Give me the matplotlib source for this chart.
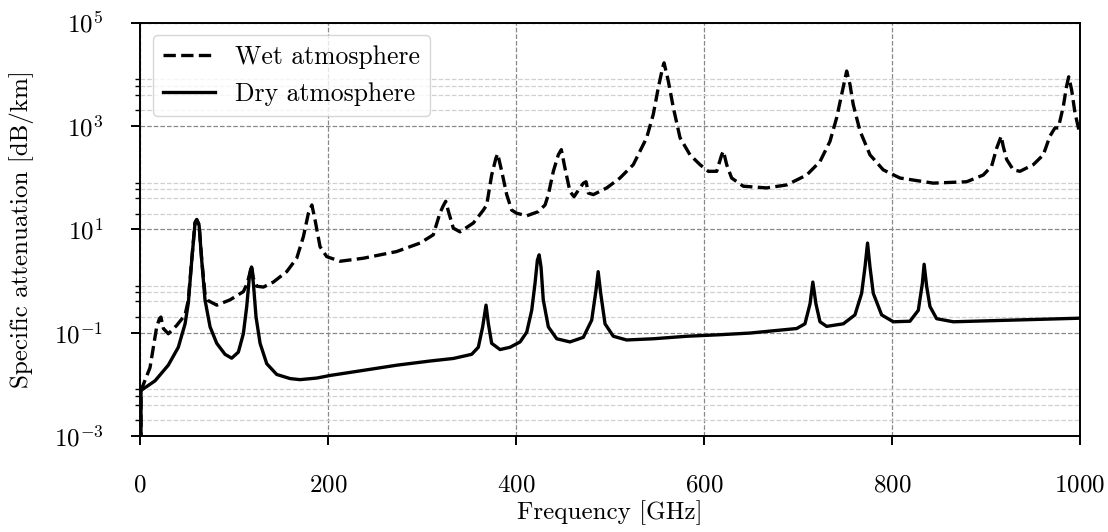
import numpy as np
import matplotlib
matplotlib.use("Agg")
import matplotlib.pyplot as plt
from matplotlib.ticker import FixedLocator, LogFormatterSciNotation, NullFormatter

plt.rcParams["font.family"] = "serif"
plt.rcParams["font.serif"] = ["cmr10"]
plt.rcParams["mathtext.fontset"] = "cm"
plt.rcParams["axes.formatter.use_mathtext"] = True

# Specific attenuation [GHz, dB/km]
freq_dry = [0, 1, 16, 30, 40.7, 47.9, 51.4, 55, 58.5, 60.3, 62.8, 65.6, 69.1, 74.5,
            81.6, 90.4, 97.5, 104.6, 109.9, 113.5, 116.3, 118.6, 120.6, 123.4, 127.7,
            134.8, 145.4, 159.6, 170.2, 188, 202, 237.6, 273, 308.5, 333.3, 352.8,
            359.9, 364.5, 368.1, 370.6, 374.1, 383, 393.6, 404.3, 411.4, 416.7, 420.2,
            422.7, 424.6, 426.6, 429, 434.4, 443.3, 457.4, 471.6, 480.5, 485.1, 487.4,
            490.1, 494.7, 503.5, 517.7, 546, 581.6, 617, 648.9, 698.6, 707.4, 712.8,
            715.8, 719.1, 723.4, 730.5, 748.2, 760.6, 767.7, 771.3, 774.0, 776.6, 780.1,
            789, 801.4, 819.1, 828, 832.3, 834.2, 836.9, 840.4, 847.5, 865.2, 925.5, 1000]
att_dry = [0, 0.0076, 0.0117, 0.0234, 0.052, 0.148, 0.38, 2.5, 13.2, 15.1, 12.0, 2.5,
           0.43, 0.129, 0.062, 0.038, 0.032, 0.042, 0.095, 0.32, 1.2, 1.86, 0.89, 0.20,
           0.062, 0.025, 0.0155, 0.0129, 0.0123, 0.0132, 0.0148, 0.0186, 0.0234, 0.0282,
           0.0316, 0.038, 0.052, 0.129, 0.34, 0.148, 0.062, 0.047, 0.052, 0.066, 0.102,
           0.27, 0.89, 2.5, 3.2, 1.86, 0.43, 0.129, 0.076, 0.066, 0.081, 0.174, 0.66,
           1.51, 0.575, 0.148, 0.085, 0.072, 0.076, 0.085, 0.091, 0.098, 0.12, 0.148,
           0.36, 0.95, 0.36, 0.162, 0.132, 0.148, 0.22, 0.575, 1.86, 5.4, 1.86, 0.575,
           0.22, 0.162, 0.166, 0.27, 0.89, 2.1, 0.78, 0.32, 0.186, 0.162, 0.174, 0.19]

freq_wet = [0, 1, 10.6, 14.2, 17.7, 20.6, 22.2, 24.8, 30.1, 39, 47.9, 51.4, 55, 58.5,
            60.3, 62.8, 65.6, 69.1, 72, 81.6, 95.7, 109.9, 114, 116.3, 118.6, 120.6,
            124.1, 131.2, 141.8, 156, 166.7, 173.8, 179.1, 182.8, 186.2, 191.5, 198.6,
            212.8, 237.6, 273, 297.9, 312, 319, 322.5, 325.2, 328, 333.3, 340.4, 354.6,
            365.2, 368.8, 374.1, 378.7, 380.5, 384.8, 390.1, 395.4, 400.7, 411.4, 423.7,
            430.9, 434.4, 439.7, 445, 448.2, 452.1, 457.4, 461.7, 468, 471.6, 474.5, 477,
            482.3, 496.5, 510.6, 524.8, 539, 546, 551.4, 556, 557.5, 562, 567.4, 574.5,
            585.1, 595.7, 604.6, 613.5, 618.8, 620.7, 624.1, 629.4, 641.8, 666.7, 688,
            709.3, 723.4, 734, 741.2, 746.5, 751.8, 755.3, 758.8, 766, 776.6, 790.7,
            808.5, 843.9, 879.5, 897.1, 906, 911.4, 916.2, 918.4, 922, 929, 936.2, 950.4,
            961, 968, 973.4, 977, 982.3, 985.8, 988, 991.1, 994.7, 1000]
att_wet = [0, 0.0076, 0.021, 0.052, 0.129, 0.186, 0.20, 0.12, 0.095, 0.138, 0.22, 0.43,
           2.6, 13.5, 15.5, 12.3, 2.6, 0.56, 0.42, 0.34, 0.43, 0.62, 0.89, 1.3, 2.0, 1.12,
           0.79, 0.76, 0.95, 1.51, 2.75, 7.2, 20.4, 29.5, 15.1, 4.6, 2.95, 2.4, 2.75, 3.7,
           5.4, 7.8, 20.4, 28.2, 34.7, 22.4, 10.5, 8.9, 13.2, 23.4, 29.5, 112, 240, 288,
           132, 46.8, 23.4, 20.4, 18.2, 21.9, 29.5, 46.8, 132, 275, 347, 151, 53.7, 42.7,
           63, 77.6, 83, 50, 46.8, 63, 98, 178, 589, 1660, 5500, 13500, 16600, 7400,
           2240, 589, 275, 178, 132, 132, 275, 324, 178, 98, 68, 63, 72, 112, 204, 500,
           1450, 4070, 11500, 6300, 2570, 794, 275, 141, 98, 78, 83, 112, 166, 372, 631,
           398, 224, 141, 132, 178, 275, 631, 912, 912, 2400, 5900, 8900, 5000, 1780, 676]

fig, ax = plt.subplots(figsize=(11.08, 5.32), dpi=100)
fig.subplots_adjust(left=0.1264, right=0.9747, top=0.9577, bottom=0.1805)

ax.plot(freq_wet, att_wet, "k--", lw=2.4, label="Wet atmosphere")
ax.plot(freq_dry, att_dry, "k-", lw=2.4, label="Dry atmosphere")

ax.set_yscale("log")
ax.set_xlim(0, 1000)
ax.set_ylim(1e-3, 1e5)
ax.set_xticks([0, 200, 400, 600, 800, 1000])
ax.yaxis.set_major_locator(FixedLocator([1e-3, 1e-1, 1e1, 1e3, 1e5]))
ax.yaxis.set_major_formatter(LogFormatterSciNotation())
minor = [s * 10.0 ** e for e in (-3, -1, 1, 3) for s in (2, 4, 6, 8)]
ax.yaxis.set_minor_locator(FixedLocator(minor))
ax.yaxis.set_minor_formatter(NullFormatter())

ax.grid(True, which="major", ls="--", color="#888888", lw=0.9)
ax.grid(True, which="minor", axis="y", ls="--", color="#d0d0d0", lw=0.9)

ax.tick_params(which="major", labelsize=18, length=6.5, width=1.4, pad=20)
ax.tick_params(axis="x", which="major", pad=21)
ax.tick_params(which="minor", length=3.5, width=1.0)
for s in ax.spines.values():
    s.set_linewidth(1.4)

ax.set_xlabel("Frequency [GHz]", fontsize=18, labelpad=3)
ax.set_ylabel("Specific attenuation [dB/km]", fontsize=18, labelpad=14)

ax.legend(loc="upper left", fontsize=18.5, handlelength=2.0)

fig.savefig("out.png", dpi=100)
